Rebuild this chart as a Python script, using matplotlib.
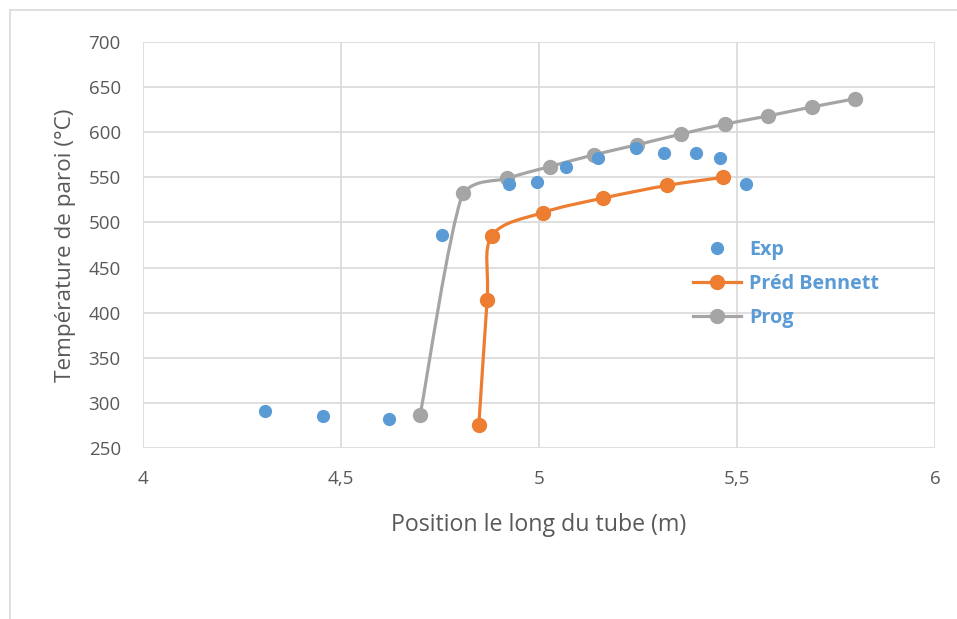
import matplotlib
matplotlib.use("Agg")
import matplotlib.pyplot as plt
from matplotlib.path import Path
from matplotlib.patches import PathPatch, Rectangle
from matplotlib.lines import Line2D
from matplotlib.ticker import FuncFormatter

# values
exp_x = [4.308, 4.455, 4.621, 4.755, 4.924, 4.995, 5.068, 5.149, 5.245, 5.316, 5.396, 5.457, 5.523]
exp_y = [291, 285, 282, 486, 543, 545, 562, 571, 583, 577, 577, 571, 543]

bennett_x = [4.848, 4.869, 4.881, 5.010, 5.162, 5.323, 5.465]
bennett_y = [275, 414, 485, 511, 527, 541, 550]

prog_x = [4.700, 4.808, 4.919, 5.028, 5.139, 5.247, 5.359, 5.470, 5.578, 5.689, 5.798]
prog_y = [287, 533, 549, 562, 575, 586, 598, 609, 618, 628, 637]

x_ticks = [4, 4.5, 5, 5.5, 6]
y_ticks = [250, 300, 350, 400, 450, 500, 550, 600, 650, 700]

BLUE = "#5b9bd5"
ORANGE = "#ed7d31"
GREY = "#a5a5a5"
TXT = "#595959"
FONT = "Open Sans"


def smooth_path(xs, ys):
    # excel-style smoothed line: bezier segments, control y kept inside each segment
    pts = list(zip(xs, ys))
    verts = [pts[0]]
    codes = [Path.MOVETO]
    n = len(pts)
    for i in range(n - 1):
        p0 = pts[i - 1] if i > 0 else pts[i]
        p1, p2 = pts[i], pts[i + 1]
        p3 = pts[i + 2] if i + 2 < n else pts[i + 1]
        lo, hi = min(p1[1], p2[1]), max(p1[1], p2[1])
        c1 = (p1[0] + (p2[0] - p0[0]) / 6, min(max(p1[1] + (p2[1] - p0[1]) / 6, lo), hi))
        c2 = (p2[0] - (p3[0] - p1[0]) / 6, min(max(p2[1] - (p3[1] - p1[1]) / 6, lo), hi))
        verts += [c1, c2, p2]
        codes += [Path.CURVE4] * 3
    return Path(verts, codes)


fig = plt.figure(figsize=(9.57, 6.19), dpi=100)
ax = fig.add_axes([143 / 957, 1 - 448 / 619, (935 - 143) / 957, (448 - 42) / 619])

for xs, ys, c in [(bennett_x, bennett_y, ORANGE), (prog_x, prog_y, GREY)]:
    ax.add_patch(PathPatch(smooth_path(xs, ys), fill=False, ec=c, lw=2.3, zorder=3))
    ax.plot(xs, ys, "o", color=c, ms=10, zorder=4)
ax.plot(exp_x, exp_y, "o", color=BLUE, ms=8.5, zorder=5)

ax.set_xlim(4, 6)
ax.set_ylim(250, 700)
ax.set_xticks(x_ticks)
ax.set_yticks(y_ticks)
ax.xaxis.set_major_formatter(FuncFormatter(lambda v, p: f"{v:g}".replace(".", ",")))
ax.grid(color="#d9d9d9", lw=1.2)
ax.set_axisbelow(True)
for s in ax.spines.values():
    s.set_visible(False)
ax.tick_params(length=0, labelsize=13.5, labelcolor=TXT)
ax.tick_params(axis="y", pad=16)
ax.tick_params(axis="x", pad=15.5)
for lab in ax.get_xticklabels() + ax.get_yticklabels():
    lab.set_family(FONT)
ax.set_xlabel("Position le long du tube (m)", family=FONT, fontsize=16.7, color=TXT, labelpad=18)
ax.set_ylabel("Température de paroi (°C)", family=FONT, fontsize=16.2, color=TXT, labelpad=9)

handles = [
    Line2D([], [], ls="none", marker="o", color=BLUE, ms=8.5),
    Line2D([], [], color=ORANGE, lw=2.3, marker="o", ms=10),
    Line2D([], [], color=GREY, lw=2.3, marker="o", ms=10),
]
leg = ax.legend(handles, ["Exp", "Préd Bennett", "Prog"], loc="upper left",
                bbox_to_anchor=((685 - 143) / 792, (448 - 232) / 406), frameon=False,
                prop={"family": FONT, "weight": "bold", "size": 14.2},
                handlelength=2.45, handletextpad=0.4, labelspacing=0.72, borderaxespad=0)
for t in leg.get_texts():
    t.set_color(BLUE)

fig.patches.append(Rectangle((10 / 957, -0.1), 1, 1.1 - 10 / 619, transform=fig.transFigure,
                             fill=False, ec="#d9d9d9", lw=1.2))

fig.savefig("out.png", dpi=100)
